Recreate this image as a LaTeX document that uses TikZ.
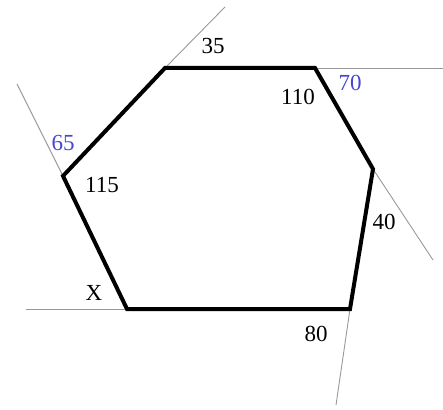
\documentclass[tikz,border=0pt]{standalone}
\usepackage{fontspec}
\setmainfont{Liberation Serif}
\begin{document}
\begin{tikzpicture}[x=1pt,y=-1pt,
  edge/.style={line width=4pt,line join=miter,black},
  ext/.style={line width=0.9pt,draw=black!40},
  lbl/.style={font=\fontsize{23}{23}\selectfont,inner sep=0pt},
  blbl/.style={lbl,text={rgb,255:red,70;green,70;blue,210}}]
\useasboundingbox (0,0) rectangle (443,409);
\coordinate (A) at (165,68);
\coordinate (B) at (315,68);
\coordinate (C) at (373,169);
\coordinate (D) at (350,309);
\coordinate (E) at (127,309);
\coordinate (F) at (63,176);
\coordinate (Ae) at (225,7);
\coordinate (Be) at (443,68);
\coordinate (Ce) at (433,260);
\coordinate (De) at (336,405);
\coordinate (Ee) at (26,309);
\coordinate (Fe) at (17,84);
\draw[ext] (A) -- (Ae);
\draw[ext] (B) -- (Be);
\draw[ext] (C) -- (Ce);
\draw[ext] (D) -- (De);
\draw[ext] (E) -- (Ee);
\draw[ext] (F) -- (Fe);
\draw[edge] (A) -- (B) -- (C) -- (D) -- (E) -- (F) -- cycle;
\node[lbl] (l35) at (213,46) {35};
\node[lbl] (l110) at (298,97) {110};
\node[blbl] (l70) at (350,83) {70};
\node[blbl] (l65) at (63,143) {65};
\node[lbl] (l115) at (102,185) {115};
\node[lbl] (l40) at (384,222) {40};
\node[lbl] (lX) at (94,293) {X};
\node[lbl] (l80) at (316,334) {80};
\end{tikzpicture}
\end{document}
